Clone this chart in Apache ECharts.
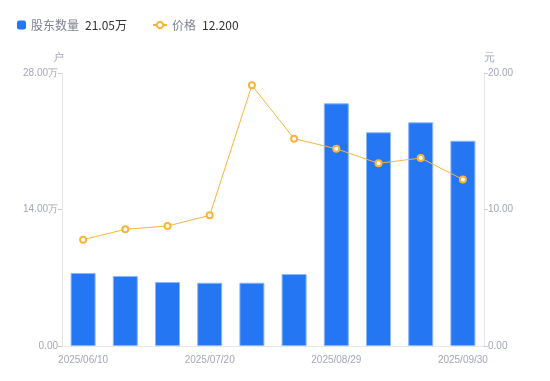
<!DOCTYPE html>
<html>
<head>
<meta charset="utf-8">
<script src="https://cdn.jsdelivr.net/npm/echarts@6/dist/echarts.min.js"></script>
<style>
    html,body{margin:0;padding:0;background:#fff;}
    #chart{width:550px;height:381px;}
</style>
</head>
<body>
<div id="chart"></div>
<script>
var dates = ["2025/06/10","2025/06/20","2025/06/30","2025/07/20","2025/07/31","2025/08/20","2025/08/29","2025/09/10","2025/09/19","2025/09/30"];
// 股东数量, 单位: 万户
var holders = [7.49,7.18,6.56,6.49,6.49,7.38,24.89,21.92,22.94,21.05];
// 价格, 元
var prices = [7.79,8.55,8.79,9.57,19.10,15.19,14.45,13.38,13.77,12.20];

var labelColor = '#a3a6b8';
var lineColor = '#e6e6e6';

var lastHolder = holders[holders.length-1].toFixed(2)+'万';
var lastPrice = prices[prices.length-1].toFixed(3);

var legendText = {
    fontSize: 12,
    fontFamily: 'Noto Sans CJK SC',
    rich: {
        n: {color: '#7f8294', fontSize: 12, padding: [0,6,0,0]},
        v: {color: '#333', fontSize: 12}
    }
};

var myChart = echarts.init(document.getElementById('chart'));
var option = {
    backgroundColor: '#fff',
    animation: false,
    legend: [{
        left: 12,
        top: 14,
        itemWidth: 9,
        itemHeight: 9,
        data: [{name: '股东数量', icon: 'roundRect', itemStyle: {borderWidth: 0}}],
        formatter: function(name){
            return '{n|'+name+'}{v|'+lastHolder+'}';
        },
        textStyle: legendText
    },{
        left: 147,
        top: 14,
        itemWidth: 14,
        itemHeight: 8,
        data: [{name: '价格'}],
        formatter: function(name){
            return '{n|'+name+'}{v|'+lastPrice+'}';
        },
        textStyle: legendText
    }],
    grid: {
        left: 62,
        right: 66,
        top: 73,
        bottom: 35
    },
    xAxis: [{
        type: 'category',
        data: dates,
        axisLine: {lineStyle: {color: lineColor}},
        axisTick: {show: false},
        axisLabel: {
            interval: 2,
            color: labelColor,
            fontSize: 10,
            fontFamily: 'Liberation Sans',
            margin: 9
        }
    }],
    yAxis: [{
        type: 'value',
        name: '户',
        nameGap: 10,
        nameTextStyle: {color: labelColor, fontSize: 11, align: 'right', padding: [0,-2,0,0]},
        min: 0,
        max: 28,
        interval: 14,
        axisLine: {show: true, lineStyle: {color: lineColor}},
        axisTick: {show: true, length: 4, lineStyle: {color: '#ccc'}},
        splitLine: {show: false},
        axisLabel: {
            color: labelColor,
            fontSize: 10,
            fontFamily: 'Liberation Sans',
            margin: 4,
            formatter: function(v){
                return v==0 ? '0.00' : v.toFixed(2)+'万';
            }
        }
    },{
        type: 'value',
        name: '元',
        nameGap: 10,
        nameTextStyle: {color: labelColor, fontSize: 11, align: 'left'},
        min: 0,
        max: 20,
        interval: 10,
        axisLine: {show: true, lineStyle: {color: lineColor}},
        axisTick: {show: true, length: 4, lineStyle: {color: '#ccc'}},
        splitLine: {show: false},
        axisLabel: {
            color: labelColor,
            fontSize: 10,
            fontFamily: 'Liberation Sans',
            margin: 4,
            formatter: function(v){
                return v.toFixed(2);
            }
        }
    }],
    series: [{
        name: '股东数量',
        type: 'bar',
        yAxisIndex: 0,
        barWidth: 25,
        itemStyle: {
            color: '#2576f3',
            borderColor: '#8ab6fa',
            borderWidth: 1
        },
        data: holders
    },{
        name: '价格',
        type: 'line',
        yAxisIndex: 1,
        symbol: 'circle',
        symbolSize: 6,
        showAllSymbol: true,
        lineStyle: {color: '#f8b53c', width: 1},
        itemStyle: {color: '#fff', borderColor: '#f8b53c', borderWidth: 2},
        data: prices
    }]
};
myChart.setOption(option);
</script>
</body>
</html>
